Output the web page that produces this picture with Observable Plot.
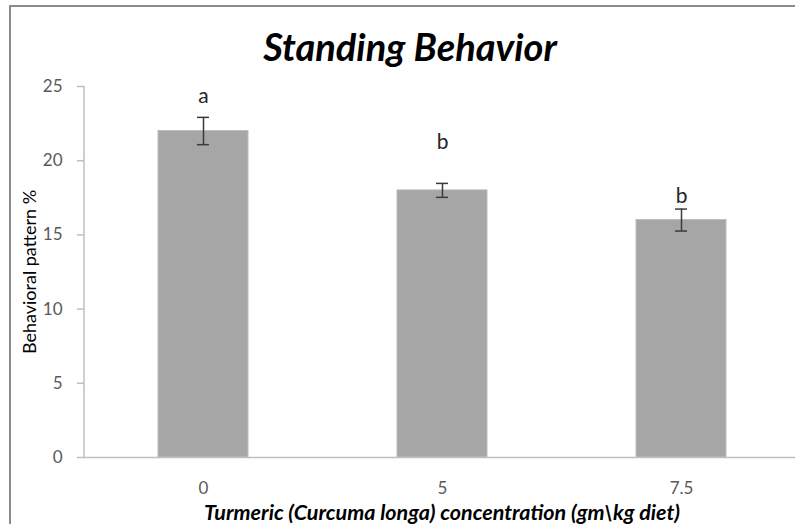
<!DOCTYPE html>
<html><head><meta charset="utf-8">
<script src="https://cdn.jsdelivr.net/npm/d3@7"></script>
<script src="https://cdn.jsdelivr.net/npm/@observablehq/plot@0.6"></script>
<style>
body{margin:0;background:#fff;}
#wrap{position:relative;width:795px;height:524px;overflow:hidden;}
#border{position:absolute;left:9px;top:5px;width:800px;height:540px;border-left:2px solid #8c8c8c;border-top:2px solid #8c8c8c;pointer-events:none;}
svg{display:block;}
</style></head><body><div id="wrap"></div>
<script>
const concentrations = ["0", "5", "7.5"];
const means = [22, 18, 16];
const errors = [0.92, 0.47, 0.74];
const letters = ["a", "b", "b"];
const letterY = [24.35, 21.25, 17.63];
const yTicks = [0, 5, 10, 15, 20, 25];
const title = "Standing Behavior";
const xLabel = "Turmeric (Curcuma longa) concentration (gm\\kg diet)";
const yLabel = "Behavioral pattern %";

const data = concentrations.map((c, i) => ({
  c, v: means[i], lo: means[i] - errors[i], hi: means[i] + errors[i],
  letter: letters[i], ly: letterY[i]
}));

const yAxisLine = (index, scales, values, dimensions) => {
  const y0 = scales.y(yTicks[0]), y1 = scales.y(yTicks[yTicks.length - 1]);
  return d3.create("svg:line")
    .attr("x1", dimensions.marginLeft).attr("x2", dimensions.marginLeft)
    .attr("y1", y0).attr("y2", y1)
    .attr("stroke", "#bfbfbf").attr("stroke-width", 1.5).node();
};

const chart = Plot.plot({
  width: 795, height: 524,
  marginLeft: 84, marginRight: 0, marginTop: 86, marginBottom: 67,
  style: {fontFamily: "Lato, sans-serif", background: "transparent", overflow: "visible"},
  x: {type: "band", domain: concentrations, range: [84, 801], paddingInner: 0.623, paddingOuter: 0.3115, align: 0.5, axis: null},
  y: {domain: [0, 25], axis: null},
  marks: [
    Plot.barY(data, {x: "c", y: "v", fill: "#a6a6a6", stroke: "#bdbdbd", strokeWidth: 1}),
    Plot.ruleY([0], {stroke: "#bfbfbf", strokeWidth: 1.5}),
    yAxisLine,
    Plot.axisY({ticks: yTicks, tickSize: 7, tickPadding: 15, stroke: "#bfbfbf", strokeWidth: 1.5, fill: "#595959", fontSize: 17, label: null}),
    Plot.axisX({tickSize: 0, tickPadding: 24, fill: "#595959", fontSize: 17, label: null}),
    Plot.ruleX(data, {x: "c", y1: "lo", y2: "hi", stroke: "#3a3a3a", strokeWidth: 1.5}),
    Plot.tickY(data, {x: "c", y: "lo", stroke: "#3a3a3a", strokeWidth: 1.5, insetLeft: 39, insetRight: 39}),
    Plot.tickY(data, {x: "c", y: "hi", stroke: "#3a3a3a", strokeWidth: 1.5, insetLeft: 39, insetRight: 39}),
    Plot.text(data, {x: "c", y: "ly", text: "letter", fontSize: 21, fill: "#262626"}),
    Plot.text([title], {frameAnchor: "top", textAnchor: "middle", lineAnchor: "middle", dx: -30, dy: -38, text: d => d, fontSize: 38, fontWeight: "bold", fontStyle: "italic", fill: "#000"}),
    Plot.text([xLabel], {frameAnchor: "bottom", textAnchor: "middle", lineAnchor: "middle", dx: 2, dy: 56, text: d => d, fontSize: 21.5, fontWeight: "bold", fontStyle: "italic", fill: "#000"}),
    Plot.text([yLabel], {frameAnchor: "left", textAnchor: "middle", lineAnchor: "middle", dx: -54, rotate: -90, text: d => d, fontSize: 18, fill: "#000"})
  ]
});
const wrap = document.getElementById("wrap");
wrap.appendChild(chart);
const b = document.createElement("div");
b.id = "border";
wrap.appendChild(b);
</script>
</body></html>
